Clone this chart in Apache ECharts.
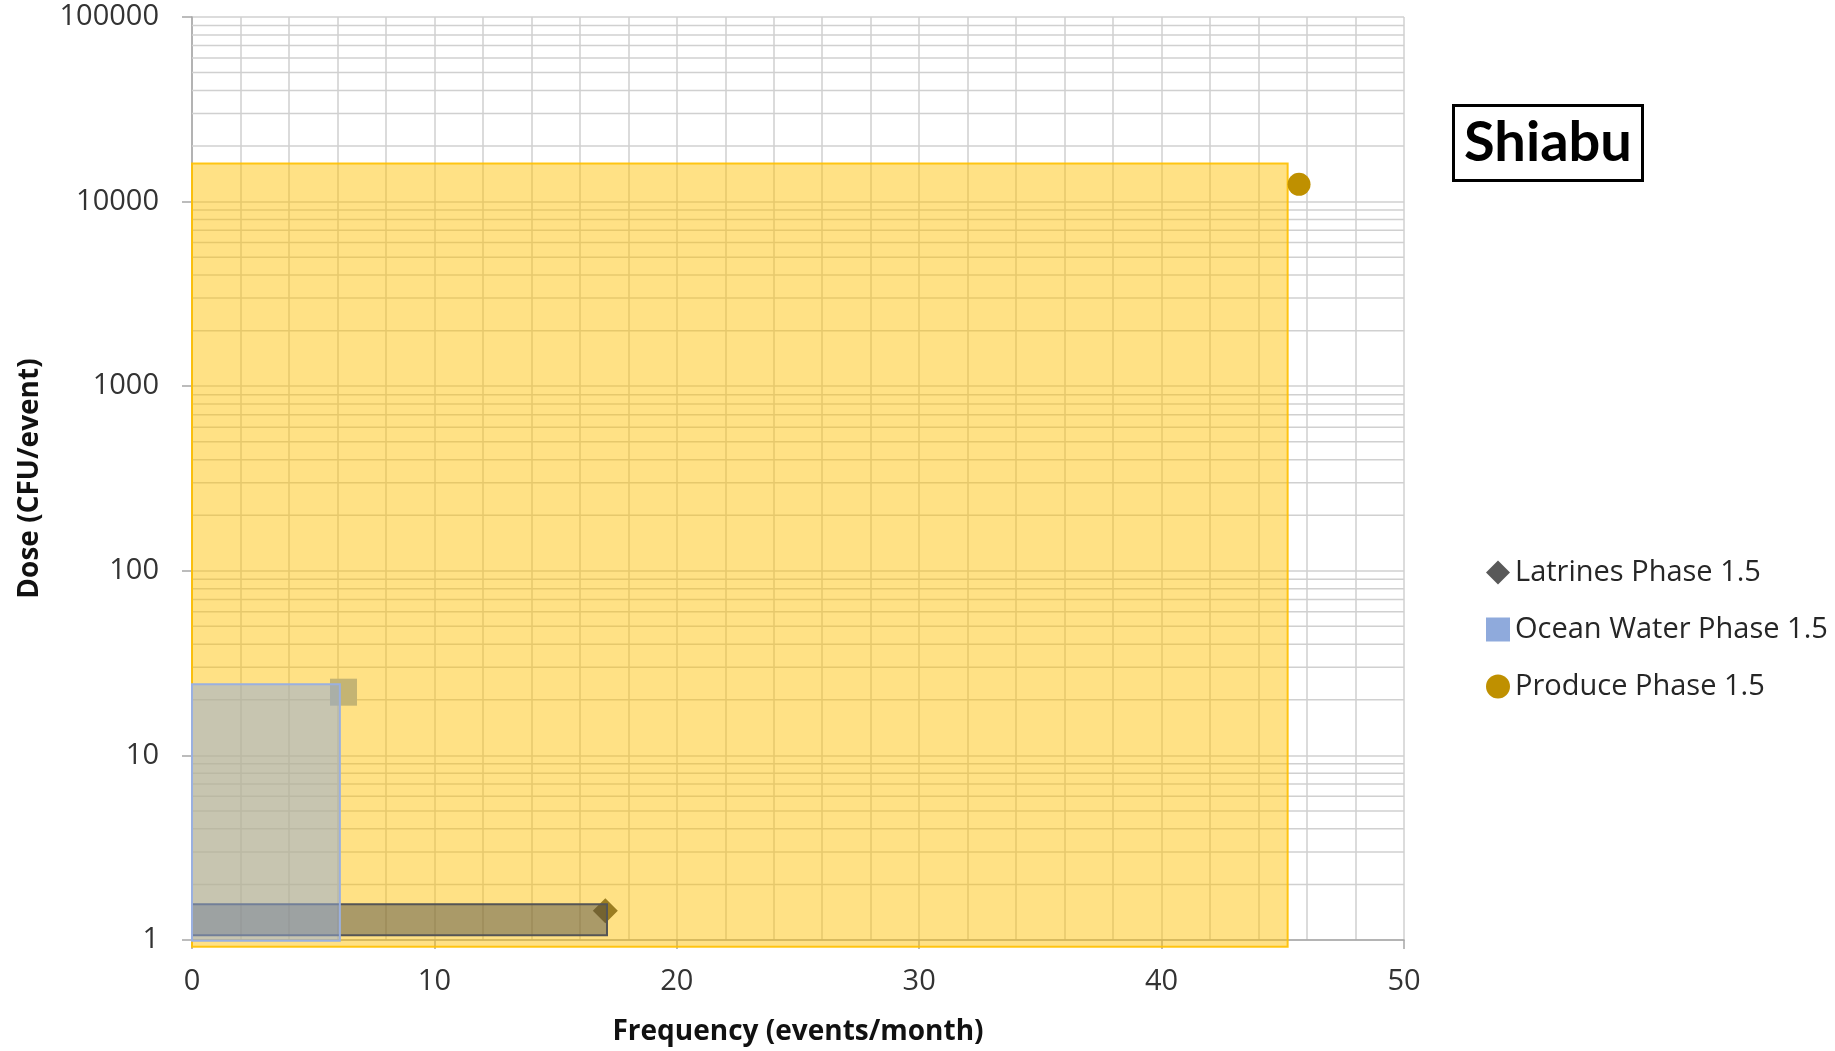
<!DOCTYPE html>
<html>
<head>
<meta charset="utf-8">
<title>Shiabu</title>
<script src="https://cdn.jsdelivr.net/npm/echarts@6/dist/echarts.min.js"></script>
<style>
  html, body { margin: 0; padding: 0; background: #fff; }
  #chart { width: 1835px; height: 1051px; }
</style>
</head>
<body>
<div id="chart"></div>
<script>
// legend order
const seriesNames = ['Latrines Phase 1.5', 'Ocean Water Phase 1.5', 'Produce Phase 1.5']

// point estimates: [frequency, dose]
const latrinesPoint = [[17.05, 1.44]]
const oceanPoint = [[6.25, 22]]
const producePoint = [[45.67, 12400]]

// ranges: [freqMin, doseMin, freqMax, doseMax]
const latrinesRange = [[0, 1.06, 17.12, 1.56]]
const oceanRange = [[0, 0.99, 6.1, 24.3]]
const produceRange = [[0, 0.92, 45.2, 16100]]

// log grid: decades and the minor steps inside each one
const decades = [1, 10, 100, 1000, 10000]
const minorSteps = [2, 3, 4, 5, 6, 7, 8, 9]

const FONT = 'Open Sans'
const GRID_COLOR = '#d0d0d0'
const AXIS_COLOR = '#a6a6a6'

const minorValues = []
decades.forEach(d => minorSteps.forEach(s => minorValues.push([d * s])))

function rectSeries(name, data, fill, stroke, z) {
  return {
    name: name,
    type: 'custom',
    z: z,
    silent: true,
    clip: false,
    encode: { x: [0, 2], y: [1, 3] },
    data: data,
    renderItem: function (params, api) {
      const p0 = api.coord([api.value(0), api.value(1)])
      const p1 = api.coord([api.value(2), api.value(3)])
      return {
        type: 'rect',
        shape: { x: p0[0], y: p1[1], width: p1[0] - p0[0], height: p0[1] - p1[1] },
        style: { fill: fill, stroke: stroke, lineWidth: 2 }
      }
    }
  }
}

const chart = echarts.init(document.getElementById('chart'))

chart.setOption({
  animation: false,
  backgroundColor: '#fff',
  title: {
    text: 'Shiabu',
    left: 1453,
    top: 105,
    padding: [10, 11, 10, 11],
    borderColor: '#000',
    borderWidth: 3,
    textStyle: { fontFamily: 'Lato', fontWeight: 'bold', fontSize: 56, color: '#000' }
  },
  legend: {
    orient: 'vertical',
    left: 1481,
    top: 553,
    itemWidth: 24,
    itemHeight: 24,
    itemGap: 28,
    selectedMode: false,
    textStyle: { fontFamily: FONT, fontSize: 29, color: '#262626' },
    data: [
      { name: seriesNames[0], icon: 'diamond', itemStyle: { color: '#595959' } },
      { name: seriesNames[1], icon: 'rect', itemStyle: { color: '#8faadc' } },
      { name: seriesNames[2], icon: 'circle', itemStyle: { color: '#bf9000' } }
    ]
  },
  grid: { left: 192, right: 431, top: 17, bottom: 110 },
  xAxis: {
    type: 'value',
    min: 0,
    max: 50,
    interval: 10,
    name: 'Frequency (events/month)',
    nameLocation: 'middle',
    nameGap: 78,
    nameTextStyle: { fontFamily: FONT, fontWeight: 'bold', fontSize: 28, color: '#111' },
    axisLine: { lineStyle: { color: AXIS_COLOR, width: 1.5 } },
    axisTick: { length: 9, lineStyle: { color: AXIS_COLOR, width: 1.5 } },
    axisLabel: { margin: 27, fontFamily: FONT, fontSize: 29, color: '#333' },
    splitLine: { show: true, lineStyle: { color: GRID_COLOR, width: 1.5 } },
    minorTick: { show: false, splitNumber: 5 },
    minorSplitLine: { show: true, lineStyle: { color: GRID_COLOR, width: 1.5 } }
  },
  yAxis: {
    type: 'log',
    logBase: 10,
    min: 1,
    max: 100000,
    name: 'Dose (CFU/event)',
    nameLocation: 'middle',
    nameGap: 148,
    nameTextStyle: { fontFamily: FONT, fontWeight: 'bold', fontSize: 28, color: '#111' },
    axisLine: { show: true, lineStyle: { color: AXIS_COLOR, width: 1.5 } },
    axisTick: { show: true, length: 10, lineStyle: { color: AXIS_COLOR, width: 1.5 } },
    axisLabel: {
      margin: 33,
      fontFamily: FONT,
      fontSize: 29,
      color: '#333',
      formatter: v => String(Math.round(v))
    },
    splitLine: { show: true, lineStyle: { color: GRID_COLOR, width: 1.5 } }
  },
  series: [
    {
      name: 'log minor grid',
      type: 'custom',
      z: 1,
      silent: true,
      encode: { y: 0 },
      data: minorValues,
      renderItem: function (params, api) {
        const a = api.coord([0, api.value(0)])
        const b = api.coord([50, api.value(0)])
        return {
          type: 'line',
          shape: { x1: a[0], y1: a[1], x2: b[0], y2: b[1] },
          style: { stroke: GRID_COLOR, lineWidth: 1.5 }
        }
      }
    },
    {
      name: seriesNames[0],
      type: 'scatter',
      z: 2,
      symbol: 'diamond',
      symbolSize: 25,
      itemStyle: { color: '#404040', opacity: 1 },
      data: latrinesPoint
    },
    {
      name: seriesNames[1],
      type: 'scatter',
      z: 2,
      symbol: 'rect',
      symbolSize: 27,
      itemStyle: { color: '#8faadc', opacity: 1 },
      data: oceanPoint
    },
    rectSeries('Produce range', produceRange, 'rgba(255,192,0,0.48)', 'rgba(255,192,0,0.9)', 3),
    rectSeries('Latrines range', latrinesRange, 'rgba(70,70,70,0.46)', '#555555', 4),
    rectSeries('Ocean range', oceanRange, 'rgba(143,170,220,0.5)', '#9ab0e0', 5),
    {
      name: seriesNames[2],
      type: 'scatter',
      z: 6,
      symbol: 'circle',
      symbolSize: 23,
      itemStyle: { color: '#bf9000', opacity: 1 },
      data: producePoint
    }
  ]
})
</script>
</body>
</html>
